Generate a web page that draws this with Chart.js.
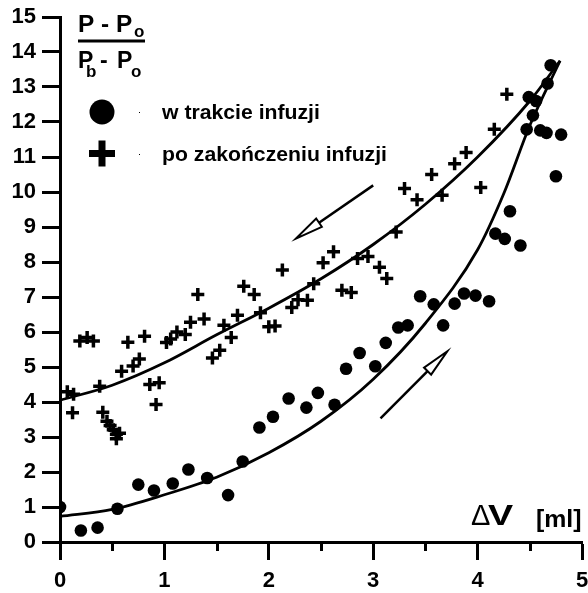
<!DOCTYPE html>
<html>
<head>
<meta charset="utf-8">
<script src="https://cdn.jsdelivr.net/npm/chart.js@4.4.1/dist/chart.umd.min.js"></script>
<style>
  body { margin: 0; background: #fff; }
  #wrap { width: 588px; height: 593px; }
</style>
</head>
<body>
<div id="wrap"><canvas id="chart" width="588" height="593"></canvas></div>
<script>
// points measured during infusion (circles)
const duringX = [0, 0.20, 0.36, 0.55, 0.75, 0.90, 1.08, 1.23, 1.41, 1.61, 1.75, 1.91, 2.04, 2.19, 2.36, 2.47, 2.63, 2.74, 2.87, 3.02,
  3.12, 3.24, 3.33, 3.45, 3.58, 3.67, 3.78, 3.87, 3.98, 4.11, 4.17, 4.26, 4.31, 4.41, 4.47, 4.49, 4.53, 4.56, 4.60, 4.66,
  4.67, 4.70, 4.75, 4.80];
const duringY = [1.00, 0.33, 0.41, 0.95, 1.64, 1.47, 1.67, 2.07, 1.83, 1.34, 2.30, 3.27, 3.58, 4.10, 3.84, 4.26, 3.92, 4.95, 5.40, 5.02,
  5.69, 6.13, 6.19, 7.02, 6.79, 6.19, 6.81, 7.10, 7.04, 6.88, 8.81, 8.66, 9.45, 8.47, 11.79, 12.71, 12.19, 12.60, 11.76, 11.69,
  13.10, 13.62, 10.45, 11.64];

// points measured after infusion ended (crosses)
const afterX = [0.07, 0.13, 0.12, 0.19, 0.26, 0.32, 0.38, 0.41, 0.45, 0.48, 0.51, 0.54, 0.57, 0.54, 0.59, 0.65, 0.70, 0.76, 0.81, 0.86,
  0.95, 0.92, 1.02, 1.06, 1.12, 1.20, 1.25, 1.32, 1.38, 1.46, 1.53, 1.57, 1.64, 1.70, 1.76, 1.86, 1.92, 2.00, 2.06, 2.13,
  2.22, 2.28, 2.37, 2.43, 2.52, 2.62, 2.70, 2.79, 2.85, 2.95, 3.06, 3.13, 3.22, 3.30, 3.42, 3.56, 3.66, 3.78, 3.89, 4.03,
  4.16, 4.28];
const afterY = [4.29, 4.22, 3.69, 5.74, 5.84, 5.74, 4.45, 3.71, 3.45, 3.33, 3.21, 3.08, 3.11, 2.95, 4.88, 5.71, 5.03, 5.23, 5.88, 4.50,
  4.55, 3.93, 5.70, 5.80, 6.00, 5.93, 6.28, 7.07, 6.37, 5.26, 5.48, 6.19, 5.84, 6.48, 7.31, 7.07, 6.55, 6.15, 6.17, 7.77,
  6.70, 6.92, 6.91, 7.38, 7.98, 8.29, 7.19, 7.13, 8.10, 8.16, 7.85, 7.53, 8.86, 10.10, 9.78, 10.50, 9.91, 10.81, 11.13, 10.13,
  11.79, 12.79];

// fitted curves
const fitDuringX = [0, 0.5, 1.0, 1.5, 2.0, 2.5, 3.0, 3.5, 4.0, 4.25, 4.5, 4.79];
const fitDuringY = [0.73, 0.93, 1.35, 1.85, 2.55, 3.45, 4.65, 6.25, 8.35, 9.95, 11.9, 13.75];
const fitAfterX = [0, 0.5, 1.0, 1.5, 2.0, 2.5, 3.0, 3.5, 4.0, 4.5, 4.79];
const fitAfterY = [4.05, 4.48, 5.12, 5.92, 6.68, 7.52, 8.5, 9.65, 11.0, 12.6, 13.75];

// direction arrows (from -> to, data units)
const arrowFromX = [3.00, 3.07];
const arrowFromY = [10.19, 3.53];
const arrowToX = [2.26, 3.71];
const arrowToY = [8.67, 5.45];

const xTicks = [0, 1, 2, 3, 4, 5];
const xMinorTicks = [0.5, 1.5, 2.5, 3.5, 4.5];
const yTicks = [0, 1, 2, 3, 4, 5, 6, 7, 8, 9, 10, 11, 12, 13, 14, 15];

const legendLabels = ['w trakcie infuzji', 'po zakończeniu infuzji'];

const FONT = '"Liberation Sans", Arial, sans-serif';

function pts(xs, ys) {
  return xs.map((x, i) => ({ x: x, y: ys[i] }));
}

// draw text stretched sideways a little, the original lettering is wide
function wideText(ctx, txt, x, y, sx) {
  ctx.save();
  ctx.translate(x, y);
  ctx.scale(sx, 1);
  ctx.fillText(txt, 0, 0);
  ctx.restore();
}

const decor = {
  id: 'decor',
  afterDatasetsDraw(chart) {
    const ctx = chart.ctx;
    const xs = chart.scales.x, ys = chart.scales.y;
    const area = chart.chartArea;
    ctx.save();
    ctx.fillStyle = '#000';
    ctx.strokeStyle = '#000';

    // minor ticks on x axis
    ctx.lineWidth = 3;
    xMinorTicks.forEach(v => {
      const px = Math.round(xs.getPixelForValue(v)) + 0.5;
      ctx.beginPath();
      ctx.moveTo(px, area.bottom);
      ctx.lineTo(px, area.bottom + 9);
      ctx.stroke();
    });

    // arrows
    for (let i = 0; i < arrowFromX.length; i++) {
      const x1 = xs.getPixelForValue(arrowFromX[i]), y1 = ys.getPixelForValue(arrowFromY[i]);
      const x2 = xs.getPixelForValue(arrowToX[i]), y2 = ys.getPixelForValue(arrowToY[i]);
      const a = Math.atan2(y2 - y1, x2 - x1);
      const hl = 28, hw = 5;
      const bx = x2 - hl * Math.cos(a), by = y2 - hl * Math.sin(a);
      ctx.lineWidth = 2.5;
      ctx.beginPath();
      ctx.moveTo(x1, y1);
      ctx.lineTo(bx, by);
      ctx.stroke();
      ctx.beginPath();
      ctx.moveTo(x2, y2);
      ctx.lineTo(bx + hw * Math.sin(a), by - hw * Math.cos(a));
      ctx.lineTo(bx - hw * Math.sin(a), by + hw * Math.cos(a));
      ctx.closePath();
      ctx.fillStyle = '#fff';
      ctx.fill();
      ctx.lineWidth = 2;
      ctx.stroke();
      ctx.fillStyle = '#000';
    }

    // y title as a fraction
    ctx.textBaseline = 'alphabetic';
    ctx.textAlign = 'left';
    ctx.font = 'bold 23px ' + FONT;
    wideText(ctx, 'P - P', 78, 32, 1.06);
    ctx.font = 'bold 17px ' + FONT;
    ctx.fillText('o', 134, 37);
    ctx.lineWidth = 3;
    ctx.beginPath();
    ctx.moveTo(78, 41);
    ctx.lineTo(145, 41);
    ctx.stroke();
    ctx.font = 'bold 23px ' + FONT;
    ctx.fillText('P', 78, 68);
    ctx.fillText('-', 100, 68);
    ctx.fillText('P', 117, 68);
    ctx.font = 'bold 17px ' + FONT;
    ctx.fillText('b', 86, 77);
    ctx.fillText('o', 131, 77);

    // legend
    ctx.beginPath();
    ctx.arc(102, 112, 12.5, 0, Math.PI * 2);
    ctx.fill();
    ctx.fillRect(89, 150, 26, 7);
    ctx.fillRect(98.5, 140.5, 7, 26);
    ctx.fillRect(139, 112, 1, 1);
    ctx.fillRect(139, 154, 1, 1);
    ctx.font = 'bold 20px ' + FONT;
    wideText(ctx, legendLabels[0], 162, 119, 1.06);
    wideText(ctx, legendLabels[1], 162, 161, 1.06);

    // x title
    ctx.font = '29px ' + FONT;
    ctx.fillText('\u0394', 471, 525);
    ctx.font = 'bold 29px ' + FONT;
    wideText(ctx, 'V', 488, 525, 1.3);
    ctx.font = 'bold 23px ' + FONT;
    wideText(ctx, '[ml]', 536, 527, 1.08);

    ctx.restore();
  }
};

const ctx = document.getElementById('chart').getContext('2d');
new Chart(ctx, {
  type: 'scatter',
  data: {
    datasets: [
      {
        data: pts(fitDuringX, fitDuringY),
        showLine: true,
        borderColor: '#000',
        borderWidth: 2.8,
        pointRadius: 0,
        cubicInterpolationMode: 'monotone'
      },
      {
        data: pts(fitAfterX, fitAfterY),
        showLine: true,
        borderColor: '#000',
        borderWidth: 2.8,
        pointRadius: 0,
        cubicInterpolationMode: 'monotone'
      },
      {
        data: pts(duringX, duringY),
        pointStyle: 'circle',
        pointRadius: 6.3,
        pointBackgroundColor: '#000',
        pointBorderWidth: 0
      },
      {
        data: pts(afterX, afterY),
        pointStyle: 'cross',
        pointRadius: 6.5,
        pointBorderColor: '#000',
        pointBorderWidth: 3.5
      }
    ]
  },
  options: {
    responsive: false,
    animation: false,
    layout: { autoPadding: false, padding: { top: 17, right: 6, left: 0, bottom: 0 } },
    plugins: {
      legend: { display: false },
      tooltip: { enabled: false }
    },
    scales: {
      x: {
        type: 'linear',
        min: 0,
        max: 5,
        afterBuildTicks: s => { s.ticks = xTicks.map(v => ({ value: v })); },
        afterFit: s => { s.height = 51; s.paddingRight = 0; s.paddingLeft = 0; },
        ticks: { color: '#000', font: { family: FONT, size: 22, weight: 'bold' }, padding: 8, maxRotation: 0 },
        grid: { drawOnChartArea: false, tickLength: 18, tickWidth: 3, tickColor: '#000' },
        border: { color: '#000', width: 3 }
      },
      y: {
        type: 'linear',
        min: 0,
        max: 15,
        afterBuildTicks: s => { s.ticks = yTicks.map(v => ({ value: v })); },
        afterFit: s => { s.width = 60; s.paddingTop = 0; s.paddingBottom = 0; },
        ticks: { color: '#000', font: { family: FONT, size: 22, weight: 'bold' }, padding: 6 },
        grid: { drawOnChartArea: false, tickLength: 18, tickWidth: 3, tickColor: '#000' },
        border: { color: '#000', width: 3 }
      }
    }
  },
  plugins: [decor]
});
</script>
</body>
</html>
